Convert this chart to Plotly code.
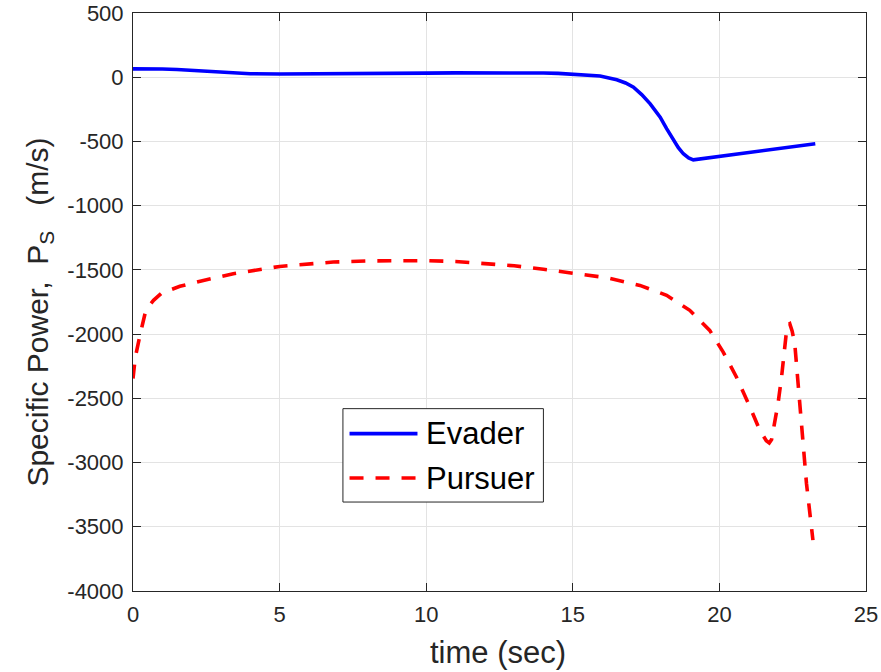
import plotly.graph_objects as go

# ---- data ----
evader_t = [0, 0.5, 1, 1.5, 2, 2.5, 3, 3.5, 4, 5, 6, 7, 8, 9, 10, 11, 12, 13, 14,
            14.5, 15, 15.5, 15.93, 16.5, 16.8, 17.07, 17.35, 17.64, 17.98, 18.2,
            18.43, 18.6, 18.77, 18.95, 19.11, 20, 21, 22, 23.27]
evader_ps = [65, 66, 64, 60, 52, 44, 36, 30, 27, 25, 25, 27, 29, 31, 32, 34, 36, 36, 33,
             30, 24, 18, 10, -20, -45, -78, -135, -207, -311, -400,
             -492, -548, -596, -628, -643, -615, -585, -555, -518]

pursuer_t = [0, 0.08, 0.25, 0.41, 0.55, 0.7, 0.98, 1.6, 2.4, 3.42, 5, 6.83, 8, 9.1, 10,
             11, 12, 13, 14, 15, 16.15, 17.29, 18.2, 18.99, 19.67, 20.13, 20.58,
             21.04, 21.38, 21.6, 21.7, 21.78, 21.83, 22.0, 22.12, 22.23, 22.31, 22.4,
             22.48, 22.57, 22.68, 22.8, 22.97, 23.19]
pursuer_ps = [-2346, -2178, -1996, -1841, -1780, -1737, -1680, -1628, -1582, -1530,
              -1473, -1439, -1430, -1426, -1428, -1435, -1448, -1468, -1495, -1525,
              -1561, -1621, -1698, -1815, -1971, -2140, -2334, -2567, -2749, -2830,
              -2847, -2820, -2762, -2541, -2334, -2101, -1932, -1919, -1975, -2074,
              -2385, -2723, -3163, -3604]

x_ticks = [0, 5, 10, 15, 20, 25]
y_ticks = [500, 0, -500, -1000, -1500, -2000, -2500, -3000, -3500, -4000]
series_names = ["Evader", "Pursuer"]
x_title = "time (sec)"
y_title = "Specific Power,  P<sub>S</sub>   (m/s)"

FONT = "Liberation Sans, Arial, Helvetica, sans-serif"
AX = "#262626"
GRID = "#e3e3e3"

fig = go.Figure()
fig.add_trace(go.Scatter(x=evader_t, y=evader_ps, mode="lines", name=series_names[0],
                         line=dict(color="#0000ff", width=3.6)))
fig.add_trace(go.Scatter(x=pursuer_t, y=pursuer_ps, mode="lines", name=series_names[1],
                         line=dict(color="#ff0000", width=3.6, dash="14px,12px")))

axis_common = dict(
    showline=True, linecolor=AX, linewidth=1, mirror="ticks",
    ticks="inside", ticklen=8, tickwidth=1, tickcolor=AX,
    showgrid=True, gridcolor=GRID, gridwidth=1, zeroline=False,
    automargin=False, ticklabelstandoff=4,
    tickfont=dict(family=FONT, size=22, color=AX),
)

fig.update_layout(
    width=881, height=672,
    margin=dict(l=133, r=15, t=13, b=81),
    paper_bgcolor="white", plot_bgcolor="white",
    showlegend=False,
    xaxis=dict(range=[0, 25], tickvals=x_ticks, ticktext=[str(v) for v in x_ticks],
               **axis_common),
    yaxis=dict(range=[-4000, 500], tickvals=y_ticks, ticktext=[str(v) for v in y_ticks],
               **axis_common),
)

# axis titles placed like the MATLAB labels
fig.add_annotation(xref="paper", yref="paper", x=0.4975, y=-0.1405, text=x_title,
                   showarrow=False, xanchor="center", yanchor="bottom",
                   font=dict(family=FONT, size=31, color=AX))
fig.add_annotation(xref="paper", yref="paper", x=-0.128, y=0.482, text=y_title,
                   textangle=-90, showarrow=False, xanchor="center", yanchor="middle",
                   font=dict(family=FONT, size=30, color=AX))

# legend box drawn like the MATLAB legend
lx0, lx1, ly0, ly1 = 0.2864, 0.5599, 0.1539, 0.3155
fig.add_shape(type="rect", xref="paper", yref="paper", x0=lx0, x1=lx1, y0=ly0, y1=ly1,
              line=dict(color=AX, width=1), fillcolor="white", layer="above")
rows = [(0.2722, "#0000ff", "solid"), (0.1954, "#ff0000", "14px,12px")]
for (yy, col, dsh), name in zip(rows, series_names):
    fig.add_shape(type="line", xref="paper", yref="paper", x0=0.2954, x1=0.3881,
                  y0=yy, y1=yy, line=dict(color=col, width=3.6, dash=dsh), layer="above")
    fig.add_annotation(xref="paper", yref="paper", x=0.3967, y=yy, text=name,
                       showarrow=False, xanchor="left", yanchor="middle",
                       font=dict(family=FONT, size=31, color="black"))

fig.write_html("out.html")
